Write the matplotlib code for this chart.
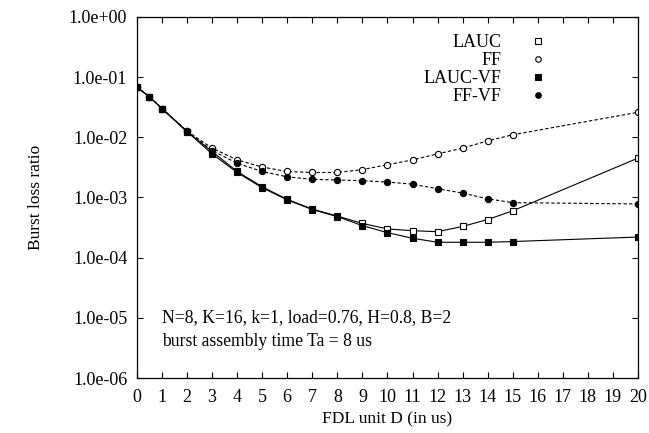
import matplotlib
matplotlib.use("Agg")
import matplotlib.pyplot as plt
from matplotlib.lines import Line2D
from matplotlib.ticker import FixedLocator, FuncFormatter

# FDL unit D (us)
fdl_unit = [0, 0.5, 1, 2, 3, 4, 5, 6, 7, 8, 9, 10, 11, 12, 13, 14, 15, 20]

lauc = [0.068, 0.047, 0.030, 0.0124, 0.0058, 0.0027, 0.0015, 0.00093, 0.00064,
        0.00049, 0.00037, 0.00030, 0.00028, 0.00027, 0.00033, 0.00043, 0.00060, 0.0045]
ff = [0.068, 0.047, 0.030, 0.0126, 0.0066, 0.0042, 0.0032, 0.0027, 0.0026,
      0.0026, 0.0029, 0.0035, 0.0042, 0.0053, 0.0066, 0.0087, 0.011, 0.026]
lauc_vf = [0.068, 0.047, 0.030, 0.0124, 0.0053, 0.0026, 0.00145, 0.00091, 0.00063,
           0.00048, 0.00034, 0.00026, 0.00021, 0.00018, 0.00018, 0.00018, 0.000185, 0.00022]
ff_vf = [0.068, 0.047, 0.030, 0.0126, 0.0060, 0.0037, 0.0027, 0.0022, 0.0020,
         0.00195, 0.0019, 0.0018, 0.00166, 0.0014, 0.00118, 0.00095, 0.00082, 0.00078]

x_ticks = list(range(0, 21))
y_ticks = [1e-6, 1e-5, 1e-4, 1e-3, 1e-2, 1e-1, 1e0]

plt.rcParams["font.family"] = ["Liberation Serif", "DejaVu Serif"]
plt.rcParams["font.size"] = 13

fig = plt.figure(figsize=(6.49, 4.33), dpi=100)
ax = fig.add_axes([0.211, 0.127, 0.772, 0.834])

dash = (0, (3, 2))
line_kw = dict(color="black", linewidth=0.8, markersize=4.5, markeredgewidth=0.8)
series = [
    ("LAUC", lauc, "s", "white", "-"),
    ("FF", ff, "o", "white", dash),
    ("LAUC-VF", lauc_vf, "s", "black", "-"),
    ("FF-VF", ff_vf, "o", "black", dash),
]
handles = []
for label, vals, marker, face, ls in series:
    ax.plot(fdl_unit, vals, marker=marker, markerfacecolor=face, linestyle=ls, **line_kw)
    handles.append(Line2D([], [], linestyle="none", marker=marker, color="black",
                          markerfacecolor=face, markersize=4, markeredgewidth=0.8, label=label))

ax.set_yscale("log")
ax.set_xlim(0, 20)
ax.set_ylim(1e-6, 1e0)
ax.xaxis.set_major_locator(FixedLocator(x_ticks))
ax.yaxis.set_major_locator(FixedLocator(y_ticks))
ax.yaxis.set_minor_locator(FixedLocator([]))
ax.yaxis.set_major_formatter(FuncFormatter(lambda v, p: f"{v:.1e}"))
ax.tick_params(direction="in", top=True, right=True, length=4, width=0.8, labelsize=13)
ax.tick_params(axis="x", pad=8)
ax.tick_params(axis="y", pad=7)
for s in ax.spines.values():
    s.set_linewidth(0.9)

ax.set_xlabel("FDL unit D (in us)", fontsize=12.5, labelpad=4)
ax.set_ylabel("Burst loss ratio", fontsize=12.5, labelpad=18)

ax.legend(handles=handles, loc="upper right", bbox_to_anchor=(0.818, 0.952),
          frameon=False, markerfirst=False, handlelength=1.0, handletextpad=1.5,
          labelspacing=0.05, borderpad=0, borderaxespad=0, fontsize=13)

ax.text(1.0, 1.0e-5, "N=8, K=16, k=1, load=0.76, H=0.8, B=2", va="center", fontsize=12.7)
ax.text(1.0, 10 ** -5.4, "burst assembly time Ta = 8 us", va="center", fontsize=12.7)

fig.savefig("out.png", dpi=100)
